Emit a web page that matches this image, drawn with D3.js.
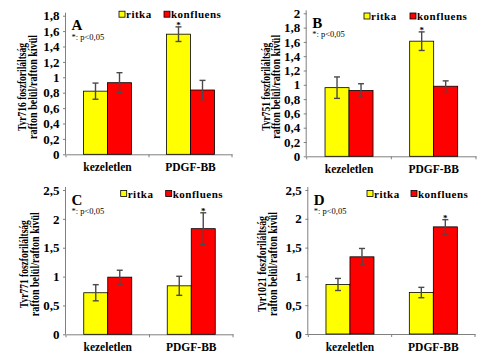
<!DOCTYPE html>
<html>
<head>
<meta charset="utf-8">
<script src="https://cdn.jsdelivr.net/npm/d3@7"></script>
<style>
html,body{margin:0;padding:0;background:#fff;}
svg{display:block;}
text{font-family:"Liberation Serif","Times New Roman",serif;}
</style>
</head>
<body>
<svg id="chart" width="480" height="360"></svg>
<script>
// ---- data ----
const categories = ["kezeletlen", "PDGF-BB"];
const series = ["ritka", "konfluens"];
const panelLetters = ["A", "B", "C", "D"];
const sites = ["Tyr716", "Tyr751", "Tyr771", "Tyr1021"];
const titleLine2 = "rafton belül/rafton kívül";
const titleWord = "foszforiláltság";
const pNote = "*: p<0,05";

const ritkaA = [0.82, 1.56], konfluensA = [0.93, 0.835];
const ritkaErrA = [0.105, 0.095], konfluensErrA = [0.13, 0.125];
const ritkaB = [0.96, 1.61], konfluensB = [0.92, 0.98];
const ritkaErrB = [0.15, 0.13], konfluensErrB = [0.095, 0.075];
const ritkaC = [0.72, 0.84], konfluensC = [0.99, 1.83];
const ritkaErrC = [0.14, 0.165], konfluensErrC = [0.12, 0.275];
const ritkaD = [0.86, 0.72], konfluensD = [1.34, 1.86];
const ritkaErrD = [0.105, 0.09], konfluensErrD = [0.145, 0.125];

const yMaxes = [1.8, 2.0, 2.5, 2.5];
const yTickStepsA = [0, 0.2, 0.4, 0.6, 0.8, 1, 1.2, 1.4, 1.6, 1.8];
const yTickStepsB = [0, 0.2, 0.4, 0.6, 0.8, 1, 1.2, 1.4, 1.6, 1.8, 2];
const yTickStepsCD = [0, 0.5, 1, 1.5, 2, 2.5];
// significance marks: [categoryIndex, seriesIndex]
const sigA = [[1, 0]], sigB = [[1, 0]], sigC = [[1, 1]], sigD = [[1, 1]];

const panelsData = [
  {values: [ritkaA, konfluensA], errs: [ritkaErrA, konfluensErrA], ticks: yTickStepsA, sig: sigA},
  {values: [ritkaB, konfluensB], errs: [ritkaErrB, konfluensErrB], ticks: yTickStepsB, sig: sigB},
  {values: [ritkaC, konfluensC], errs: [ritkaErrC, konfluensErrC], ticks: yTickStepsCD, sig: sigC},
  {values: [ritkaD, konfluensD], errs: [ritkaErrD, konfluensErrD], ticks: yTickStepsCD, sig: sigD}
];

// ---- layout (not data) ----
const layouts = [
  {left: 66, right: 232, top: 15.7, bottom: 154.3, titleDx: -44, legX: 119, legY: 14.2, legGap: 45},
  {left: 306.7, right: 476, top: 13.3, bottom: 156.3, titleDx: -41, legX: 364, legY: 16, legGap: 46},
  {left: 66, right: 233, top: 190, bottom: 334.3, titleDx: -42, legX: 120.7, legY: 193.5, legGap: 45},
  {left: 308.3, right: 475, top: 190, bottom: 334, titleDx: -46, legX: 367, legY: 193.5, legGap: 44}
];
const colors = {ritka: "#FFFF00", konfluens: "#FF0000"};
const barW = 24;

const fmt = d3.formatLocale({decimal: ",", thousands: ".", grouping: [3], currency: ["", ""]}).format(".1~f");
const svg = d3.select("#chart");

panelsData.forEach((pd, i) => {
  const L = layouts[i];
  const g = svg.append("g");
  const y = d3.scaleLinear().domain([0, yMaxes[i]]).range([L.bottom, L.top]);
  const x0 = d3.scaleBand().domain(categories).range([L.left, L.right]).padding(0);
  const x1 = d3.scaleBand().domain(series).range([0, barW * 2]).padding(0);
  const off = (x0.bandwidth() - barW * 2) / 2;

  // y axis
  const yAxis = d3.axisLeft(y).tickValues(pd.ticks).tickFormat(fmt).tickSize(3).tickPadding(3.5);
  const ya = g.append("g").attr("transform", `translate(${L.left},0)`).call(yAxis);
  ya.select(".domain").attr("stroke", "#808080").attr("d", `M-0.5,${L.top - 3}V${L.bottom}`);
  ya.selectAll(".tick line").attr("stroke", "#808080");
  ya.selectAll(".tick text").attr("font-size", 13).attr("font-weight", "bold").attr("fill", "#000");

  // x axis
  const xa = g.append("g").attr("transform", `translate(0,${L.bottom})`)
    .call(d3.axisBottom(x0).tickSize(0).tickPadding(9));
  xa.select(".domain").attr("stroke", "#808080");
  xa.selectAll(".tick text").attr("font-size", 11.5).attr("font-weight", "bold").attr("fill", "#000");
  const bounds = [L.left, ...categories.slice(1).map(c => x0(c)), L.right];
  xa.selectAll(".sep").data(bounds).enter().append("line")
    .attr("x1", d => d).attr("x2", d => d).attr("y1", 0).attr("y2", 3)
    .attr("stroke", "#808080");

  // bars
  const rows = [];
  categories.forEach((c, ci) => series.forEach((s, si) => {
    rows.push({c, s, ci, si, v: pd.values[si][ci], e: pd.errs[si][ci]});
  }));
  g.selectAll(".bar").data(rows).enter().append("rect")
    .attr("x", d => x0(d.c) + off + x1(d.s))
    .attr("y", d => y(d.v))
    .attr("width", x1.bandwidth())
    .attr("height", d => y(0) - y(d.v))
    .attr("fill", d => colors[d.s])
    .attr("stroke", "#000").attr("stroke-width", 0.8);

  // error bars
  const cx = d => x0(d.c) + off + x1(d.s) + x1.bandwidth() / 2;
  const eg = g.append("g").attr("stroke", "#4a4a4a").attr("stroke-width", 1.4);
  eg.selectAll(".ev").data(rows).enter().append("line")
    .attr("x1", cx).attr("x2", cx).attr("y1", d => y(d.v - d.e)).attr("y2", d => y(d.v + d.e));
  eg.selectAll(".et").data(rows).enter().append("line")
    .attr("x1", d => cx(d) - 3).attr("x2", d => cx(d) + 3).attr("y1", d => y(d.v + d.e)).attr("y2", d => y(d.v + d.e));
  eg.selectAll(".eb").data(rows).enter().append("line")
    .attr("x1", d => cx(d) - 3).attr("x2", d => cx(d) + 3).attr("y1", d => y(d.v - d.e)).attr("y2", d => y(d.v - d.e));

  // significance
  pd.sig.forEach(([ci, si]) => {
    const d = rows.find(r => r.ci === ci && r.si === si);
    g.append("text").attr("x", cx(d)).attr("y", y(d.v + d.e) + 1)
      .attr("text-anchor", "middle").attr("font-size", 9).attr("font-weight", "bold").text("*");
  });

  // panel letter + p note
  g.append("text").attr("x", L.left + 5.5).attr("y", L.top + 14.5)
    .attr("font-size", 15).attr("font-weight", "bold").text(panelLetters[i]);
  g.append("text").attr("x", L.left + 5.5).attr("y", L.top + 24)
    .attr("font-size", 8.5).text(pNote);

  // legend
  series.forEach((s, si) => {
    const lx = L.legX + si * L.legGap;
    g.append("rect").attr("x", lx).attr("y", L.legY - 3).attr("width", 6).attr("height", 6)
      .attr("fill", colors[s]).attr("stroke", "#000").attr("stroke-width", 0.8);
    g.append("text").attr("x", lx + 7).attr("y", L.legY).attr("dominant-baseline", "central")
      .attr("font-size", 11).attr("font-weight", "bold").attr("letter-spacing", 0.5).text(s);
  });

  // y title
  const cy = (L.top + L.bottom) / 2 + 2;
  const tx = L.left + L.titleDx;
  const tt = g.append("text").attr("transform", `translate(${tx},${cy}) rotate(-90)`)
    .attr("text-anchor", "middle").attr("font-size", 11.5).attr("font-weight", "bold");
  tt.append("tspan").attr("x", 0).attr("y", 0).attr("dominant-baseline", "central")
    .attr("textLength", i === 3 ? 96 : 88).attr("lengthAdjust", "spacingAndGlyphs")
    .text(`${sites[i]} ${titleWord}`);
  tt.append("tspan").attr("x", 0).attr("y", 10.5).attr("dominant-baseline", "central")
    .attr("textLength", 104).attr("lengthAdjust", "spacingAndGlyphs")
    .text(titleLine2);
});
</script>
</body>
</html>
